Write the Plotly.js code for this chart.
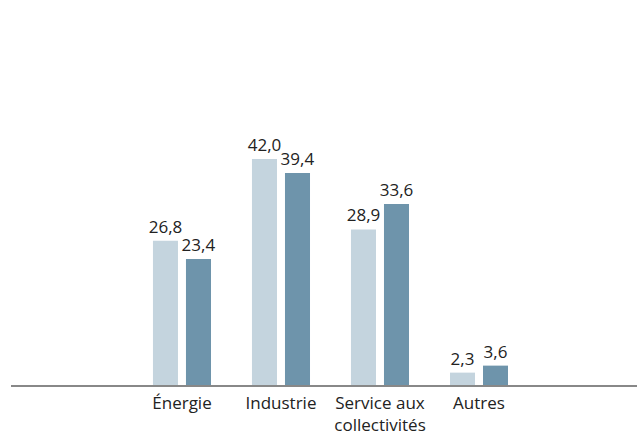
<!DOCTYPE html>
<html>
<head>
<meta charset="utf-8">
<script src="https://cdn.plot.ly/plotly-3.0.1.min.js"></script>
<style>body{margin:0;background:#fff}#chart{width:637px;height:437px}</style>
</head>
<body>
<div id="chart"></div>
<script>
const categories = ["Énergie", "Industrie", "Service aux<br>collectivités", "Autres"];
const seriesA = [26.8, 42.0, 28.9, 2.3];
const seriesB = [23.4, 39.4, 33.6, 3.6];
const fmt = v => v.toFixed(1).replace('.', ',');
const font = {family: '"Open Sans", sans-serif', size: 17, color: '#222'};
const traces = [
  {type: 'bar', x: categories, y: seriesA, marker: {color: '#c4d4de'}, text: seriesA.map(fmt),
   textposition: 'outside', textfont: font, constraintext: 'none', cliponaxis: false, hoverinfo: 'none'},
  {type: 'bar', x: categories, y: seriesB, marker: {color: '#6e94ab'}, text: seriesB.map(fmt),
   textposition: 'outside', textfont: font, constraintext: 'none', cliponaxis: false, hoverinfo: 'none'}
];
const layout = {
  width: 637, height: 437,
  margin: {l: 11, r: 0, t: 20, b: 52},
  paper_bgcolor: '#fff', plot_bgcolor: '#fff',
  showlegend: false,
  barmode: 'group', bargap: 0.333, bargroupgap: 0.242,
  font: font,
  xaxis: {range: [-1.727, 4.596], showgrid: false, zeroline: false, showline: true,
          linecolor: '#888', linewidth: 1.5, ticks: '', ticklabelstandoff: 2, tickfont: font, fixedrange: true},
  yaxis: {range: [0, 67.8], visible: false, showgrid: false, zeroline: false, fixedrange: true}
};
Plotly.newPlot('chart', traces, layout, {displayModeBar: false, staticPlot: true});
</script>
</body>
</html>
